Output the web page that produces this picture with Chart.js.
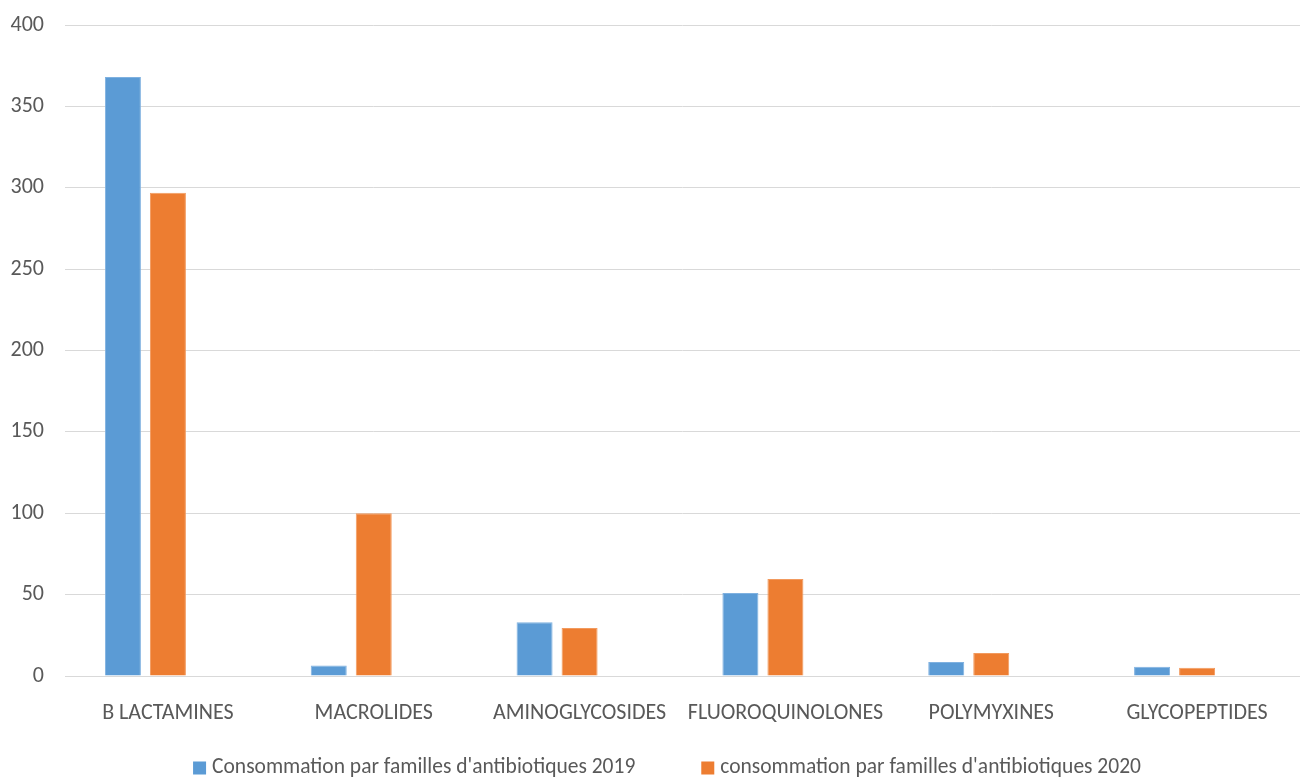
<!DOCTYPE html>
<html lang="fr">
<head>
<meta charset="utf-8">
<title>Consommation par familles d'antibiotiques</title>
<script src="https://cdn.jsdelivr.net/npm/chart.js@4/dist/chart.umd.min.js"></script>
<style>
  html, body { margin: 0; padding: 0; background: #ffffff; overflow: hidden; }
  #wrap { width: 1300px; height: 780px; }
  #chart { display: block; }
</style>
</head>
<body>
<div id="wrap"><canvas id="chart" width="1300" height="780"></canvas></div>
<script>
// Antibiotic families on the x axis
const families = ['B LACTAMINES', 'MACROLIDES', 'AMINOGLYCOSIDES', 'FLUOROQUINOLONES', 'POLYMYXINES', 'GLYCOPEPTIDES'];

// Consumption per family, by year
const consumption2019 = [368, 6.5, 33, 51, 8.6, 5.7];
const consumption2020 = [297, 100, 29.5, 59.6, 14.1, 5.1];

// Empty third series slot (keeps each pair left of the category centre)
const emptySeries = [null, null, null, null, null, null];

// Series names
const label2019 = "Consommation par familles d'antibiotiques 2019";
const label2020 = "consommation par familles d'antibiotiques 2020";

// Value axis ticks
const yTicks = [0, 50, 100, 150, 200, 250, 300, 350, 400];

const FONT_FAMILY = "Carlito, Calibri, 'Liberation Sans', Arial, sans-serif";
const FONT_SIZE = 22;
const TEXT_COLOR = '#595959';
const GRID_COLOR = '#d9d9d9';

// Legend row drawn under the category labels
const bottomLegend = {
  id: 'bottomLegend',
  afterDraw(chart, args, opts) {
    const ctx = chart.ctx;
    const items = chart.data.datasets.filter(d => d.label);
    ctx.save();
    ctx.font = opts.font;
    const widths = items.map(d => ctx.measureText(d.label).width);
    const total = widths.reduce((acc, w) => acc + opts.box + opts.boxGap + w, 0) + opts.itemGap * (items.length - 1);
    let x = opts.centerX - total / 2;
    const y = opts.y;
    items.forEach((d, i) => {
      ctx.fillStyle = d.backgroundColor;
      ctx.fillRect(x, y - opts.box / 2, opts.box, opts.box);
      x += opts.box + opts.boxGap;
      ctx.fillStyle = opts.color;
      ctx.textBaseline = 'middle';
      ctx.textAlign = 'left';
      ctx.fillText(d.label, x, y);
      x += widths[i] + opts.itemGap;
    });
    ctx.restore();
  }
};

new Chart(document.getElementById('chart'), {
  type: 'bar',
  data: {
    labels: families,
    datasets: [
      { label: label2019, data: consumption2019, backgroundColor: '#5b9bd5', borderColor: '#7fb1e0', borderWidth: 1 },
      { label: label2020, data: consumption2020, backgroundColor: '#ed7d31', borderColor: '#f29a5e', borderWidth: 1 },
      { label: '', data: emptySeries, backgroundColor: 'rgba(0,0,0,0)' }
    ]
  },
  options: {
    responsive: false,
    animation: false,
    devicePixelRatio: 1,
    categoryPercentage: 0.656,
    barPercentage: 0.8,
    layout: { padding: { top: 25, right: 0, bottom: 52, left: 0 } },
    plugins: {
      legend: { display: false },
      tooltip: { enabled: false },
      bottomLegend: {
        font: '21.5px ' + FONT_FAMILY,
        color: TEXT_COLOR,
        box: 13,
        boxGap: 6,
        itemGap: 66,
        centerX: 667,
        y: 768
      }
    },
    scales: {
      x: {
        afterFit(axis) { axis.height = 52; },
        grid: { display: false, drawTicks: false },
        border: { display: true, color: GRID_COLOR, width: 1 },
        ticks: {
          color: TEXT_COLOR,
          font: { family: FONT_FAMILY, size: FONT_SIZE },
          padding: 24,
          maxRotation: 0,
          autoSkip: false
        }
      },
      y: {
        min: 0,
        max: 400,
        afterBuildTicks(axis) { axis.ticks = yTicks.map(v => ({ value: v })); },
        afterFit(axis) {
          axis.width = 65;
          axis.paddingTop = 0;
          axis.paddingBottom = 0;
        },
        grid: { color: GRID_COLOR, lineWidth: 1, drawTicks: false },
        border: { display: false },
        ticks: {
          color: TEXT_COLOR,
          font: { family: FONT_FAMILY, size: FONT_SIZE },
          padding: 21
        }
      }
    }
  },
  plugins: [bottomLegend]
});
</script>
</body>
</html>
